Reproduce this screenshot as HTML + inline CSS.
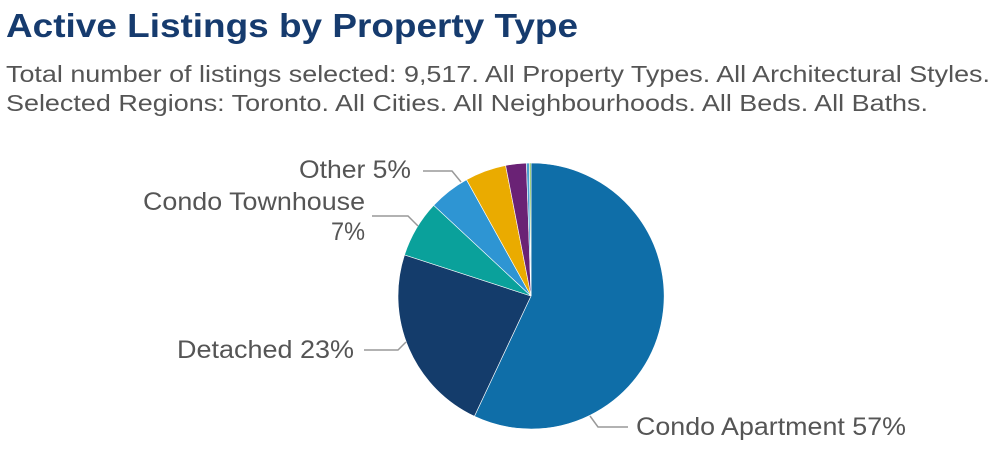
<!DOCTYPE html>
<html><head><style>body{margin:0;background:#fff}svg{display:block}</style></head><body>
<svg width="1000" height="458" xmlns="http://www.w3.org/2000/svg" font-family="Liberation Sans, Arial, sans-serif">
<text x="6" y="37" font-size="33" font-weight="bold" fill="#163b6e" textLength="572" lengthAdjust="spacingAndGlyphs">Active Listings by Property Type</text>
<text x="6" y="82" font-size="23" fill="#555" textLength="984" lengthAdjust="spacingAndGlyphs">Total number of listings selected: 9,517. All Property Types. All Architectural Styles.</text>
<text x="6" y="111" font-size="23" fill="#555" textLength="922" lengthAdjust="spacingAndGlyphs">Selected Regions: Toronto. All Cities. All Neighbourhoods. All Beds. All Baths.</text>
<g stroke="#fff" stroke-width="0.6">
<path d="M531,296 L531,163 A133,133 0 1,1 474.4,416.3 Z" fill="#0f6ea8"/>
<path d="M531,296 L474.4,416.3 A133,133 0 0,1 404.5,254.9 Z" fill="#143c6b"/>
<path d="M531,296 L404.5,254.9 A133,133 0 0,1 433.7,205.3 Z" fill="#0aa19b"/>
<path d="M531,296 L433.7,205.3 A133,133 0 0,1 466.5,179.7 Z" fill="#2e95d3"/>
<path d="M531,296 L466.5,179.7 A133,133 0 0,1 505.6,165.4 Z" fill="#eaab00"/>
<path d="M531,296 L505.6,165.4 A133,133 0 0,1 526.4,163.1 Z" fill="#6a2275"/>
<path d="M531,296 L526.4,163.1 A133,133 0 0,1 529.4,163 Z" fill="#4a9fd0"/>
<path d="M531,296 L529.4,163 A133,133 0 0,1 531,163 Z" fill="#7ab648"/>
</g>
<g fill="none" stroke="#999" stroke-width="1.5">
<polyline points="423,171 452,171 461,182"/>
<polyline points="372,216 408,216 418,226"/>
<polyline points="364,350 398,350 406,342"/>
<polyline points="628,427 598,427 590,416"/>
</g>
<g font-size="25" fill="#555" lengthAdjust="spacingAndGlyphs">
<text x="299" y="178" textLength="112" lengthAdjust="spacingAndGlyphs">Other 5%</text>
<text x="143" y="210" textLength="222" lengthAdjust="spacingAndGlyphs">Condo Townhouse</text>
<text x="331" y="240" textLength="34" lengthAdjust="spacingAndGlyphs">7%</text>
<text x="177" y="358" textLength="177" lengthAdjust="spacingAndGlyphs">Detached 23%</text>
<text x="636" y="435" textLength="270" lengthAdjust="spacingAndGlyphs">Condo Apartment 57%</text>
</g>
</svg>
</body></html>
